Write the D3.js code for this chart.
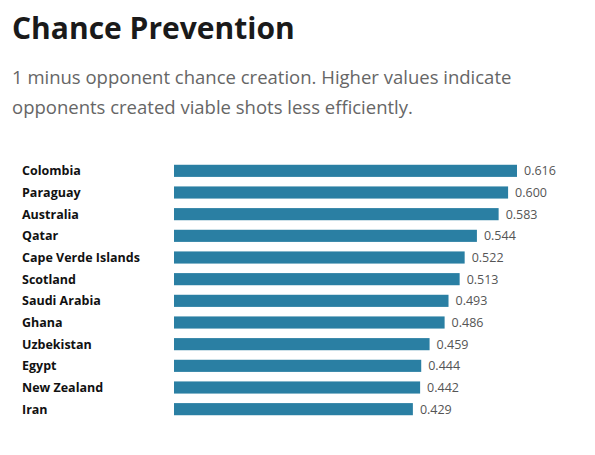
<!DOCTYPE html>
<html><head><meta charset="utf-8">
<script src="https://cdn.jsdelivr.net/npm/d3@7"></script>
<style>body{margin:0;background:#fff;font-family:"Segoe UI","Open Sans","Noto Sans",sans-serif;}</style>
</head><body><svg id="c" width="595" height="455"></svg>
<script>
const countries=["Colombia","Paraguay","Australia","Qatar","Cape Verde Islands","Scotland","Saudi Arabia","Ghana","Uzbekistan","Egypt","New Zealand","Iran"];
const values=[0.616,0.600,0.583,0.544,0.522,0.513,0.493,0.486,0.459,0.444,0.442,0.429];
const svg=d3.select("#c");
svg.append("text").attr("x",12).attr("y",39).attr("font-size",30).attr("font-weight",700).attr("fill","#1a1a1a").text("Chance Prevention");
svg.append("text").attr("x",12).attr("y",84).attr("font-size",18.5).attr("fill","#666").text("1 minus opponent chance creation. Higher values indicate");
svg.append("text").attr("x",12).attr("y",114).attr("font-size",18.5).attr("fill","#666").text("opponents created viable shots less efficiently.");
const x=d3.scaleLinear().domain([0,0.616]).range([174,517]);
const y=d3.scaleBand().domain(countries).range([160,420]).paddingInner(0.44).paddingOuter(0.22);
const g=svg.append("g");
countries.forEach((c,i)=>{
  g.append("rect").attr("x",x(0)).attr("y",y(c)).attr("width",x(values[i])-x(0)).attr("height",y.bandwidth()).attr("fill","#2a7fa3");
  g.append("text").attr("x",22).attr("y",y(c)+y.bandwidth()/2).attr("dy","0.35em").attr("font-size",12.5).attr("font-weight",700).attr("fill","#111").text(c);
  g.append("text").attr("x",x(values[i])+7).attr("y",y(c)+y.bandwidth()/2).attr("dy","0.35em").attr("font-size",12.5).attr("fill","#555").text(values[i].toFixed(3));
});
</script></body></html>
